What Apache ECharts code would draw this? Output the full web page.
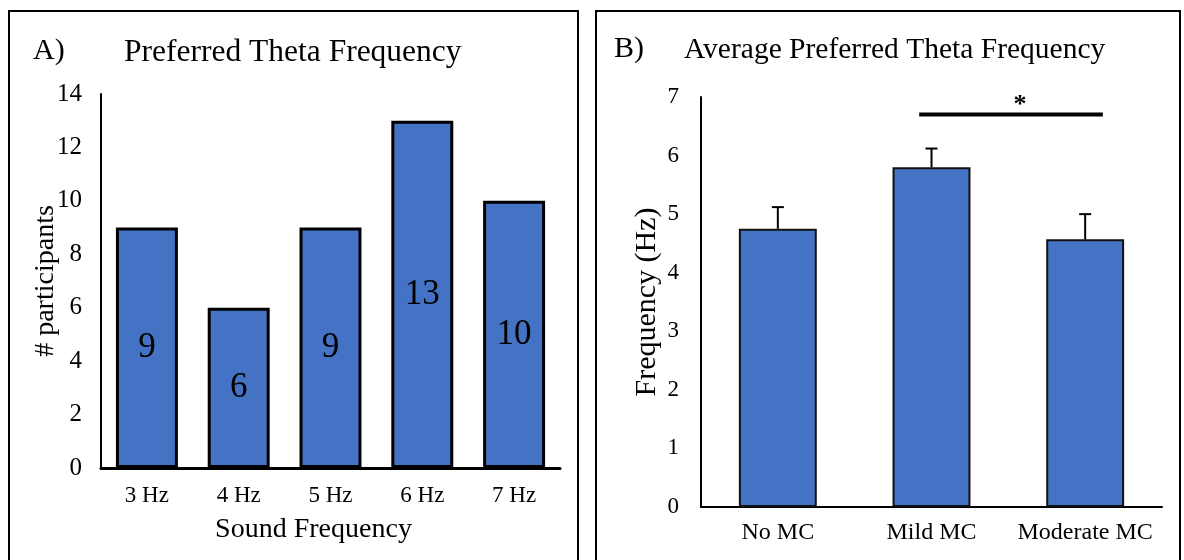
<!DOCTYPE html>
<html>
<head>
<meta charset="utf-8">
<script src="https://cdn.jsdelivr.net/npm/echarts@6/dist/echarts.min.js"></script>
<style>
  html, body { margin: 0; padding: 0; background: #fff; }
  #chart { width: 1184px; height: 560px; }
</style>
</head>
<body>
<div id="chart"></div>
<script>
// panel A data
const hzCategories = ["3 Hz", "4 Hz", "5 Hz", "6 Hz", "7 Hz"];
const participantCounts = [9, 6, 9, 13, 10];

// panel B data
const mcCategories = ["No MC", "Mild MC", "Moderate MC"];
const meanFrequency = [4.75, 5.8, 4.57];
const errorUpper = [5.12, 6.12, 5.0];

// significance bar between Mild MC and Moderate MC
const sigFrom = 1;
const sigTo = 2;
const sigLevel = 6.7;
const sigLabel = "*";

const FONT = "Liberation Serif";
const BLUE = "#4472C4";

const chart = echarts.init(document.getElementById("chart"));

const axisText = { color: "#000", fontFamily: FONT };

chart.setOption({
  animation: false,
  backgroundColor: "#fff",
  title: [
    { text: "A)", left: 28, top: 31, textStyle: { ...axisText, fontSize: 30, fontWeight: "normal" } },
    { text: "Preferred Theta Frequency", left: 119, top: 32, textStyle: { ...axisText, fontSize: 31.5, fontWeight: "normal" } },
    { text: "B)", left: 609, top: 29, textStyle: { ...axisText, fontSize: 30, fontWeight: "normal" } },
    { text: "Average Preferred Theta Frequency", left: 679, top: 30, textStyle: { ...axisText, fontSize: 29.5, fontWeight: "normal" } }
  ],
  graphic: [
    { type: "rect", shape: { x: 9, y: 11, width: 569, height: 560 }, style: { fill: null, stroke: "#000", lineWidth: 2 } },
    { type: "rect", shape: { x: 596, y: 11, width: 584, height: 560 }, style: { fill: null, stroke: "#000", lineWidth: 2 } }
  ],
  grid: [
    { left: 101, right: 624, top: 94, bottom: 92 },
    { left: 701, right: 22, top: 97, bottom: 53 }
  ],
  xAxis: [
    {
      type: "category", gridIndex: 0, data: hzCategories,
      axisLine: { lineStyle: { color: "#000", width: 3 } },
      axisTick: { show: false },
      axisLabel: { ...axisText, fontSize: 23, margin: 16, interval: 0 },
      name: "Sound Frequency", nameLocation: "middle", nameGap: 48,
      nameTextStyle: { ...axisText, fontSize: 28, padding: [0, 34, 0, 0] }
    },
    {
      type: "category", gridIndex: 1, data: mcCategories,
      axisLine: { lineStyle: { color: "#000", width: 2 } },
      axisTick: { show: false },
      axisLabel: { ...axisText, fontSize: 24, margin: 14, interval: 0, hideOverlap: false }
    }
  ],
  yAxis: [
    {
      type: "value", gridIndex: 0, min: 0, max: 14, interval: 2,
      axisLine: { show: true, lineStyle: { color: "#000", width: 2 } },
      axisTick: { show: false },
      splitLine: { show: false },
      axisLabel: { ...axisText, fontSize: 25, margin: 19 },
      name: "# participants", nameLocation: "middle", nameGap: 41,
      nameMoveOverlap: false,
      nameTextStyle: { ...axisText, fontSize: 28 }
    },
    {
      type: "value", gridIndex: 1, min: 0, max: 7, interval: 1,
      axisLine: { show: true, lineStyle: { color: "#000", width: 2 } },
      axisTick: { show: false },
      splitLine: { show: false },
      axisLabel: { ...axisText, fontSize: 23, margin: 22 },
      name: "Frequency (Hz)", nameLocation: "middle", nameGap: 39,
      nameMoveOverlap: false,
      nameTextStyle: { ...axisText, fontSize: 30 }
    }
  ],
  series: [
    {
      type: "bar", xAxisIndex: 0, yAxisIndex: 0,
      data: participantCounts, barWidth: "67.5%",
      itemStyle: { color: BLUE, borderColor: "#000", borderWidth: 3 },
      label: { show: true, position: "inside", ...axisText, fontSize: 35 }
    },
    {
      type: "bar", xAxisIndex: 1, yAxisIndex: 1,
      data: meanFrequency, barWidth: "50.7%",
      itemStyle: { color: BLUE, borderColor: "#111", borderWidth: 2 }
    },
    {
      // upper error whiskers
      type: "custom", xAxisIndex: 1, yAxisIndex: 1,
      data: mcCategories.map((_, i) => [i, meanFrequency[i], errorUpper[i]]),
      encode: { x: 0, y: [1, 2] },
      z: 3,
      renderItem: (params, api) => {
        const base = api.coord([api.value(0), api.value(1)]);
        const top = api.coord([api.value(0), api.value(2)]);
        const style = { stroke: "#000", lineWidth: 2 };
        return {
          type: "group",
          children: [
            { type: "line", shape: { x1: top[0], y1: top[1], x2: base[0], y2: base[1] }, style },
            { type: "line", shape: { x1: top[0] - 6, y1: top[1], x2: top[0] + 6, y2: top[1] }, style }
          ]
        };
      }
    },
    {
      // significance bar
      type: "custom", xAxisIndex: 1, yAxisIndex: 1,
      data: [[sigFrom, sigTo, sigLevel]],
      encode: { x: [0, 1], y: 2 },
      z: 3,
      renderItem: (params, api) => {
        const band = api.size([1, 0])[0];
        const p1 = api.coord([api.value(0), api.value(2)]);
        const p2 = api.coord([api.value(1), api.value(2)]);
        const x1 = p1[0] - band * 0.08;
        const x2 = p2[0] + band * 0.115;
        return {
          type: "group",
          children: [
            { type: "line", shape: { x1, y1: p1[1], x2, y2: p1[1] }, style: { stroke: "#000", lineWidth: 4 } },
            {
              type: "text",
              style: {
                text: sigLabel, x: (x1 + x2) / 2 + 9, y: p1[1] + 4,
                align: "center", verticalAlign: "bottom",
                fontFamily: FONT, fontSize: 26, fontWeight: "bold", fill: "#000"
              }
            }
          ]
        };
      }
    }
  ]
});
</script>
</body>
</html>
